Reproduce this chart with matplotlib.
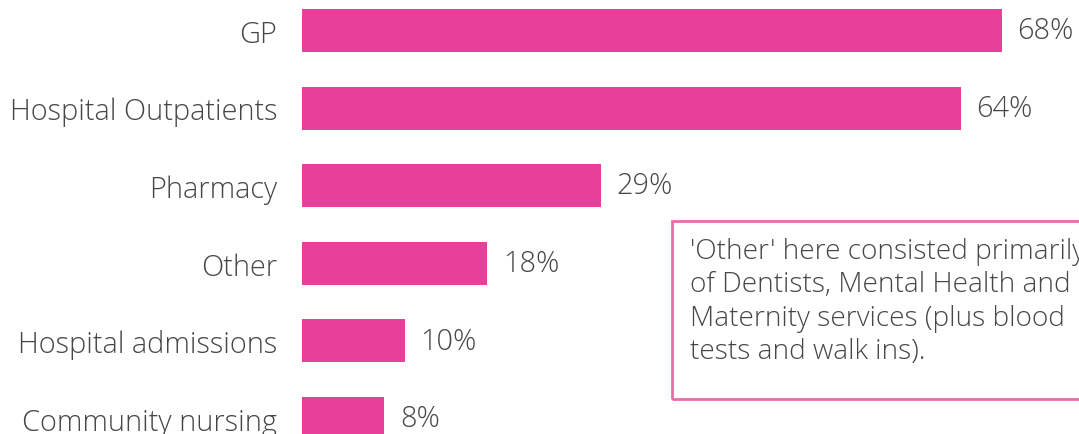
import numpy as np
import matplotlib.pyplot as plt
from matplotlib.patches import Rectangle

categories = ["GP", "Hospital Outpatients", "Pharmacy", "Other",
              "Hospital admissions", "Community nursing"]
values = [68, 64, 29, 18, 10, 8]

PINK = "#E8409A"
GREY = "#474747"
W, H = 1079, 435
FS = 20.8

plt.rcParams["font.family"] = ["Open Sans", "DejaVu Sans"]

fig = plt.figure(figsize=(W / 100, H / 100), dpi=100)
x0 = 302 / W
ax = fig.add_axes([x0, 0, 1 - x0, 1])

y = np.arange(len(categories))
ax.barh(y, values, height=0.555, color=PINK)
ax.set_xlim(0, (W - 302) / 10.294)
ax.set_ylim(5.2, -0.406)

ax.set_yticks(y)
ax.set_yticklabels(categories, fontsize=FS, color=GREY, fontweight="light")
ax.tick_params(axis="y", length=0, pad=18)
ax.set_xticks([])
for s in ax.spines.values():
    s.set_visible(False)

for yi, v in zip(y, values):
    ax.text(v + 1.5, yi, f"{v}%", va="center", ha="left",
            fontsize=FS, color=GREY, fontweight="light")

# note box, runs off the right edge like the source
fig.patches.append(Rectangle((672 / W, 1 - 400 / H), 0.5, 178 / H,
                             transform=fig.transFigure, fill=False,
                             ec="#E46FA6", lw=2, clip_on=False))
note = ("'Other' here consisted primarily\n"
        "of Dentists, Mental Health and\n"
        "Maternity services (plus blood\n"
        "tests and walk ins).")
fig.text(690 / W, 1 - 238 / H, note, ha="left", va="top", fontsize=20.2,
         color=GREY, fontweight="light", linespacing=1.26)

fig.savefig("out.png", dpi=100)
